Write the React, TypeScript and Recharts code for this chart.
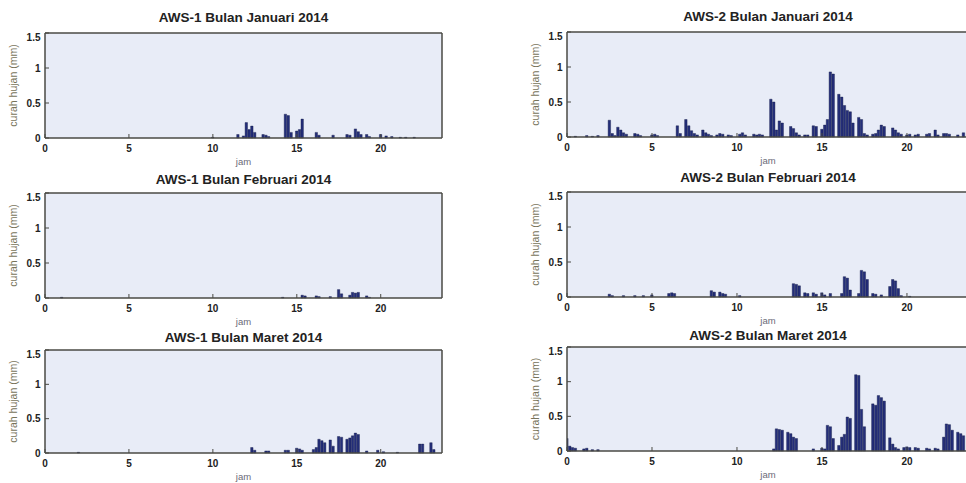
import React from "react";
import { BarChart, Bar, XAxis, YAxis, CartesianGrid } from "recharts";

// [jam, curah hujan (mm)] — 10 minute steps, zero steps left out
type Pt = [number, number];

const JAM_TICKS = [0, 5, 10, 15, 20];
const CURAH_TICKS = [0, 0.5, 1, 1.5];
const JAM_MAX = 23.65;

const aws1Januari: Pt[] = [
  [10.0, 0.01], [11.5, 0.05], [11.83, 0.03], [12.0, 0.22], [12.17, 0.12], [12.33, 0.17], [12.5, 0.08],
  [13.0, 0.05], [13.17, 0.04], [13.33, 0.02], [14.33, 0.34], [14.5, 0.32], [14.67, 0.08], [15.0, 0.1],
  [15.17, 0.12], [15.33, 0.27], [16.17, 0.08], [16.33, 0.04], [17.17, 0.04], [18.0, 0.05], [18.17, 0.04],
  [18.5, 0.13], [18.67, 0.09], [18.83, 0.05], [19.17, 0.05], [19.33, 0.02], [20.0, 0.05], [20.33, 0.03],
  [20.67, 0.02], [21.17, 0.01], [21.5, 0.01], [22.0, 0.01],
];

const aws2Januari: Pt[] = [
  [0.5, 0.01], [1.17, 0.02], [1.5, 0.01], [1.83, 0.02], [2.5, 0.24], [2.67, 0.05], [2.83, 0.02], [3.0, 0.14],
  [3.17, 0.1], [3.33, 0.06], [3.5, 0.04], [4.0, 0.05], [4.17, 0.04], [4.33, 0.02], [5.0, 0.03], [5.17, 0.04],
  [5.33, 0.02], [6.5, 0.16], [6.67, 0.05], [7.0, 0.25], [7.17, 0.16], [7.33, 0.09], [7.5, 0.05], [7.67, 0.03],
  [8.0, 0.1], [8.17, 0.06], [8.33, 0.04], [8.5, 0.02], [8.83, 0.03], [9.0, 0.05], [9.17, 0.04], [9.5, 0.03],
  [9.67, 0.02], [10.17, 0.04], [10.33, 0.06], [10.5, 0.03], [11.0, 0.04], [11.17, 0.03], [11.33, 0.04],
  [11.5, 0.03], [12.0, 0.54], [12.17, 0.5], [12.33, 0.1], [12.5, 0.23], [12.67, 0.2], [13.17, 0.15],
  [13.33, 0.12], [13.5, 0.06], [13.67, 0.03], [14.0, 0.03], [14.17, 0.03], [14.5, 0.16], [14.67, 0.15],
  [15.0, 0.11], [15.17, 0.17], [15.33, 0.25], [15.5, 0.93], [15.67, 0.9], [16.0, 0.61], [16.17, 0.57],
  [16.33, 0.45], [16.5, 0.38], [16.67, 0.36], [16.83, 0.2], [17.17, 0.28], [17.33, 0.25], [17.5, 0.05],
  [17.67, 0.03], [18.0, 0.04], [18.17, 0.05], [18.33, 0.1], [18.5, 0.17], [18.67, 0.15], [19.17, 0.13],
  [19.33, 0.1], [19.5, 0.06], [19.67, 0.04], [20.0, 0.03], [20.17, 0.04], [20.5, 0.03], [20.67, 0.04],
  [21.17, 0.04], [21.33, 0.05], [21.67, 0.1], [21.83, 0.03], [22.17, 0.05], [22.33, 0.05], [22.5, 0.04],
  [23.0, 0.03], [23.33, 0.06],
];

const aws1Februari: Pt[] = [
  [1.0, 0.01], [14.17, 0.01], [15.33, 0.04], [15.5, 0.03], [16.17, 0.03], [16.33, 0.02], [17.0, 0.02],
  [17.5, 0.12], [17.67, 0.06], [18.17, 0.04], [18.33, 0.08], [18.5, 0.07], [18.67, 0.08], [19.17, 0.03],
  [19.33, 0.01],
];

const aws2Februari: Pt[] = [
  [2.5, 0.04], [2.67, 0.02], [3.33, 0.02], [4.0, 0.02], [4.5, 0.02], [5.0, 0.03], [6.0, 0.05], [6.17, 0.06],
  [6.33, 0.05], [8.5, 0.09], [8.67, 0.07], [9.0, 0.07], [9.17, 0.05], [9.33, 0.04], [10.17, 0.02],
  [13.33, 0.19], [13.5, 0.18], [13.67, 0.16], [14.0, 0.06], [14.17, 0.05], [14.5, 0.06], [14.67, 0.04],
  [15.0, 0.06], [15.17, 0.03], [15.5, 0.05], [16.17, 0.05], [16.33, 0.29], [16.5, 0.27], [16.67, 0.1],
  [17.17, 0.05], [17.33, 0.38], [17.5, 0.36], [17.67, 0.25], [18.0, 0.05], [18.17, 0.04], [18.5, 0.03],
  [19.0, 0.15], [19.17, 0.25], [19.33, 0.23], [19.5, 0.12], [19.67, 0.02], [20.17, 0.01],
];

const aws1Maret: Pt[] = [
  [2.0, 0.01], [12.33, 0.08], [12.5, 0.04], [13.17, 0.03], [13.33, 0.03], [14.33, 0.04], [14.5, 0.04],
  [15.0, 0.07], [15.17, 0.06], [15.33, 0.04], [16.0, 0.05], [16.17, 0.08], [16.33, 0.2], [16.5, 0.18],
  [16.67, 0.15], [17.0, 0.19], [17.17, 0.1], [17.5, 0.24], [17.67, 0.23], [18.0, 0.2], [18.17, 0.22],
  [18.33, 0.25], [18.5, 0.29], [18.67, 0.27], [19.17, 0.03], [19.83, 0.04], [20.17, 0.02], [21.0, 0.01],
  [22.33, 0.13], [22.5, 0.13], [23.0, 0.15], [23.17, 0.05],
];

const aws2Maret: Pt[] = [
  [0.0, 0.18], [0.17, 0.07], [0.33, 0.05], [0.5, 0.04], [1.0, 0.03], [1.17, 0.04], [1.5, 0.02], [1.83, 0.02],
  [12.17, 0.03], [12.33, 0.32], [12.5, 0.31], [12.67, 0.3], [13.0, 0.27], [13.17, 0.25], [13.33, 0.2],
  [13.5, 0.18], [14.5, 0.03], [15.0, 0.04], [15.17, 0.03], [15.33, 0.37], [15.5, 0.35], [15.67, 0.18],
  [16.0, 0.08], [16.17, 0.2], [16.33, 0.24], [16.5, 0.49], [16.67, 0.47], [17.0, 1.1], [17.17, 1.09],
  [17.33, 0.6], [17.5, 0.35], [18.0, 0.68], [18.17, 0.66], [18.33, 0.8], [18.5, 0.77], [18.67, 0.72],
  [19.0, 0.19], [19.17, 0.1], [19.33, 0.05], [19.5, 0.03], [19.83, 0.05], [20.0, 0.06], [20.17, 0.05],
  [20.5, 0.05], [20.67, 0.04], [21.17, 0.04], [21.33, 0.03], [21.67, 0.04], [21.83, 0.03], [22.17, 0.2],
  [22.33, 0.39], [22.5, 0.38], [22.67, 0.3], [23.0, 0.27], [23.17, 0.25], [23.33, 0.22],
];

const AXIS = "#4a4a44";
const BAR = "#242e7a";
const BG = "#e8ecf7";
const FONT = '"Liberation Sans", Arial, sans-serif';
const tickStyle = { fontSize: 10, fontWeight: 700, fill: "#222", fontFamily: FONT };

function YLabel({ h }: { h: number }) {
  return (
    <text
      transform={`translate(13, ${h / 2 + 1}) rotate(-90)`}
      textAnchor="middle"
      dominantBaseline="central"
      fontSize={10.5}
      fill="#77735a"
      fontFamily={FONT}
    >
      curah hujan (mm)
    </text>
  );
}

type PanelProps = {
  title: string; points: Pt[];
  left: number; top: number; w: number; h: number; titleUp: number;
};

function Panel({ title, points, left, top, w, h, titleUp }: PanelProps) {
  const data = points.map(([jam, mm]) => ({ jam, mm }));
  return (
    <div style={{ position: "absolute", left: left - 45, top: top - 24, width: w + 48, height: h + 55 }}>
      <div
        style={{
          position: "absolute", left: 45, width: w, top: 24 - titleUp - 8, height: 16, lineHeight: "16px",
          textAlign: "center", font: `bold 13.5px ${FONT}`, color: "#222", whiteSpace: "nowrap",
        }}
      >
        {title}
      </div>
      <div style={{ position: "absolute", top: 23, left: 0 }}>
        <BarChart width={w + 48} height={h + 31} data={data} barSize={3}
          margin={{ top: 0, right: 2, bottom: 0, left: 0 }}>
          <CartesianGrid xAxisId="b" yAxisId="l" horizontal={false} vertical={false} fill={BG} />
          <XAxis xAxisId="b" type="number" dataKey="jam" domain={[0, JAM_MAX]} ticks={JAM_TICKS}
            allowDataOverflow height={30} tickSize={-4} tickMargin={11} tick={tickStyle}
            axisLine={{ stroke: AXIS, strokeWidth: 1.5 }} tickLine={{ stroke: AXIS }}
            label={{ value: "jam", position: "insideBottom", offset: 3, fontSize: 9.5, fill: "#6a6a78", fontFamily: FONT }} />
          <XAxis xAxisId="t" orientation="top" type="number" dataKey="jam" domain={[0, JAM_MAX]} ticks={JAM_TICKS}
            allowDataOverflow height={1} tickSize={-4} tick={false}
            axisLine={{ stroke: AXIS, strokeWidth: 1.5 }} tickLine={{ stroke: AXIS }} />
          <YAxis yAxisId="l" domain={[0, 1.5]} ticks={CURAH_TICKS} width={45} tickSize={-4} tickMargin={8.5}
            tick={tickStyle} axisLine={{ stroke: AXIS, strokeWidth: 1.5 }} tickLine={{ stroke: AXIS }}
            label={<YLabel h={h} />} />
          <YAxis yAxisId="r" orientation="right" domain={[0, 1.5]} ticks={CURAH_TICKS} width={1} tickSize={-4}
            tick={false} axisLine={{ stroke: AXIS, strokeWidth: 1.5 }} tickLine={{ stroke: AXIS }} />
          <Bar xAxisId="b" yAxisId="l" dataKey="mm" fill={BAR} stroke="#121845" strokeWidth={0.4}
            isAnimationActive={false} />
        </BarChart>
      </div>
    </div>
  );
}

export default function App() {
  return (
    <div style={{ position: "fixed", left: 0, top: 0, width: 966, height: 483, overflow: "hidden", background: "#fff" }}>
      <Panel title="AWS-1 Bulan Januari 2014" points={aws1Januari} left={45} top={33} w={397} h={105} titleUp={15.5} />
      <Panel title="AWS-2 Bulan Januari 2014" points={aws2Januari} left={567} top={32} w={402} h={105} titleUp={15} />
      <Panel title="AWS-1 Bulan Februari 2014" points={aws1Februari} left={45} top={193} w={397} h={105} titleUp={13} />
      <Panel title="AWS-2 Bulan Februari 2014" points={aws2Februari} left={567} top={192} w={402} h={105} titleUp={14} />
      <Panel title="AWS-1 Bulan Maret 2014" points={aws1Maret} left={45} top={350} w={397} h={103} titleUp={12} />
      <Panel title="AWS-2 Bulan Maret 2014" points={aws2Maret} left={567} top={347} w={402} h={104} titleUp={11} />
    </div>
  );
}
